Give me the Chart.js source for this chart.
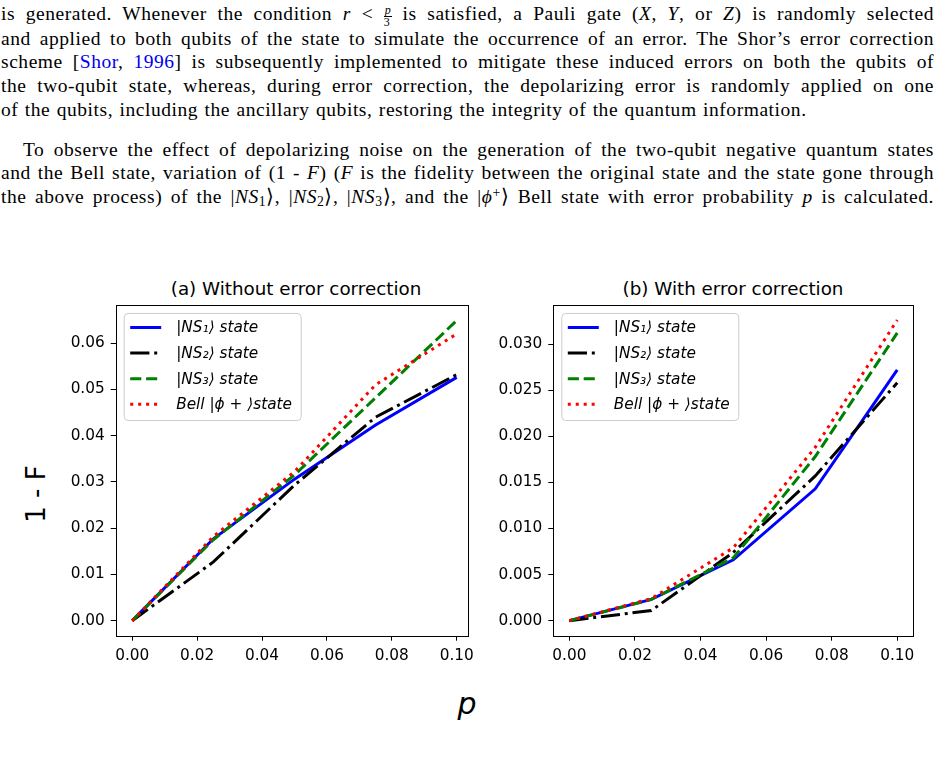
<!DOCTYPE html>
<html>
<head>
<meta charset="utf-8">
<script src="https://cdn.jsdelivr.net/npm/chart.js@4.4.1/dist/chart.umd.min.js"></script>
<style>
  body { margin: 0; background: #fff; width: 941px; height: 784px; overflow: hidden; position: relative; }
  .txt { position: absolute; left: 1px; width: 933px; font-family: "Liberation Serif", serif; font-size: 19.5px;
         letter-spacing: 0.55px; word-spacing: 1px;
         line-height: 23.5px; white-space: nowrap; text-align: justify; text-align-last: justify; color: #000; }
  .txt.last { text-align-last: left; }
  .txt i { font-style: italic; }
  .txt sub { font-size: 0.7em; line-height: 0; vertical-align: -0.25em; }
  .txt sup { font-size: 0.7em; line-height: 0; vertical-align: 0.45em; }
  .frac { display: inline-block; vertical-align: -0.5em; font-size: 12px; line-height: 11px; text-align: center; letter-spacing: 0; }
  .frac .num { display: block; border-bottom: 1px solid #000; padding: 0 1px; font-style: italic; }
  .txt a { color: #0000ee; text-decoration: none; }
  .lbl { position: absolute; font-family: "DejaVu Sans", sans-serif; color: #000; white-space: nowrap; text-align: center; }
  canvas { position: absolute; }
</style>
</head>
<body>

<div class="txt" style="top:2px">is generated. Whenever the condition <i>r</i> &lt; <span class="frac"><span class="num">p</span>3</span> is satisfied, a Pauli gate (<i>X</i>, <i>Y</i>, or <i>Z</i>) is randomly selected</div>
<div class="txt" style="top:26.5px">and applied to both qubits of the state to simulate the occurrence of an error. The Shor’s error correction</div>
<div class="txt" style="top:50px">scheme [<a>Shor</a>, <a>1996</a>] is subsequently implemented to mitigate these induced errors on both the qubits of</div>
<div class="txt" style="top:74px">the two-qubit state, whereas, during error correction, the depolarizing error is randomly applied on one</div>
<div class="txt last" style="top:97.5px">of the qubits, including the ancillary qubits, restoring the integrity of the quantum information.</div>

<div class="txt" style="top:137.5px; left:23px; width:911px">To observe the effect of depolarizing noise on the generation of the two-qubit negative quantum states</div>
<div class="txt" style="top:161px">and the Bell state, variation of (1 - <i>F</i>) (<i>F</i> is the fidelity between the original state and the state gone through</div>
<div class="txt" style="top:184.5px">the above process) of the |<i>NS</i><sub>1</sub>⟩, |<i>NS</i><sub>2</sub>⟩, |<i>NS</i><sub>3</sub>⟩, and the |<i>ϕ</i><sup>+</sup>⟩ Bell state with error probability <i>p</i> is calculated.</div>

<div class="lbl" style="left:96px; width:400px; top:278px; font-size:18.3px; line-height:22px">(a) Without error correction</div>
<div class="lbl" style="left:533px; width:400px; top:278px; font-size:18.3px; line-height:22px">(b) With error correction</div>
<div class="lbl" style="left:-14px; width:100px; top:479px; font-size:26px; line-height:30px; transform:rotate(-90deg)">1 - F</div>
<div class="lbl" style="left:417px; width:100px; top:686px; font-size:30px; line-height:36px; font-style:italic">p</div>

<canvas id="chartA" width="480" height="400" style="left:0px; top:280px"></canvas>
<canvas id="chartB" width="470" height="400" style="left:460px; top:280px"></canvas>

<script>
// error probability p on the x axis
const pValues = [0, 0.025, 0.05, 0.075, 0.1];

// (a) without error correction, 1 - F
const ns1Plain = [0, 0.0177, 0.0306, 0.0423, 0.0526];
const ns2Plain = [0, 0.0127, 0.0293, 0.0440, 0.0532];
const ns3Plain = [0, 0.0175, 0.0315, 0.0482, 0.0649];
const bellPlain = [0, 0.0182, 0.0322, 0.0510, 0.0620];

// (b) with error correction, 1 - F
const ns1Corr = [0, 0.0023, 0.0066, 0.0143, 0.0272];
const ns2Corr = [0, 0.0011, 0.0074, 0.0157, 0.0258];
const ns3Corr = [0, 0.0023, 0.0068, 0.0178, 0.0312];
const bellCorr = [0, 0.0024, 0.0079, 0.0188, 0.0326];

const seriesLabels = ["|NS₁⟩ state", "|NS₂⟩ state", "|NS₃⟩ state", "Bell |ϕ + ⟩state"];

const xTicks = [0, 0.02, 0.04, 0.06, 0.08, 0.1];
const yTicksA = [0, 0.01, 0.02, 0.03, 0.04, 0.05, 0.06];
const yTicksB = [0, 0.005, 0.01, 0.015, 0.02, 0.025, 0.03];

// matplotlib-ish line styles, dash lengths scale with line width
const LW = 3;
const lineStyles = [
  { color: "#0000ff", dash: [] },
  { color: "#000000", dash: [6.4 * LW, 1.6 * LW, 1 * LW, 1.6 * LW] },
  { color: "#008000", dash: [3.7 * LW, 1.6 * LW] },
  { color: "#ff0000", dash: [1 * LW, 1.65 * LW] },
];

// full box around the plot area
const framePlugin = {
  id: "frame",
  afterDraw(chart) {
    const { ctx, chartArea: a } = chart;
    ctx.save();
    ctx.strokeStyle = "#000";
    ctx.lineWidth = 1;
    ctx.strokeRect(Math.round(a.left) + 0.5, Math.round(a.top) + 0.5,
      Math.round(a.right - a.left), Math.round(a.bottom - a.top));
    ctx.restore();
  },
};

// legend box in the upper left corner, drawn from the datasets
const legendBoxPlugin = {
  id: "legendBox",
  afterDraw(chart) {
    const { ctx, chartArea: a } = chart;
    const x = a.left + 8.5, y = a.top + 8.5, w = 177, h = 107;
    ctx.save();
    ctx.beginPath();
    ctx.roundRect(x, y, w, h, 4);
    ctx.fillStyle = "rgba(255,255,255,0.8)";
    ctx.fill();
    ctx.strokeStyle = "#cccccc";
    ctx.lineWidth = 1;
    ctx.stroke();
    ctx.font = "italic 15.3px 'DejaVu Sans'";
    ctx.textBaseline = "middle";
    chart.data.datasets.forEach((ds, i) => {
      const ry = y + 14 + i * 25.6;
      ctx.beginPath();
      ctx.setLineDash(ds.borderDash);
      ctx.strokeStyle = ds.borderColor;
      ctx.lineWidth = LW;
      ctx.moveTo(x + 6, ry);
      ctx.lineTo(x + 37, ry);
      ctx.stroke();
      ctx.setLineDash([]);
      ctx.fillStyle = "#000";
      ctx.fillText(ds.label, x + 52, ry + 1);
    });
    ctx.restore();
  },
};

function makeChart(id, series, opts) {
  const datasets = series.map((vals, i) => ({
    label: seriesLabels[i],
    data: pValues.map((p, k) => ({ x: p, y: vals[k] })),
    borderColor: lineStyles[i].color,
    borderDash: lineStyles[i].dash,
    borderWidth: LW,
    pointRadius: 0,
    tension: 0,
    fill: false,
    order: 3 - i,
  }));
  const tickFont = { family: "DejaVu Sans", size: 15.3 };
  const gridOpts = { drawOnChartArea: false, drawTicks: true, tickLength: 5, color: "#000", lineWidth: 1 };
  return new Chart(document.getElementById(id), {
    type: "line",
    data: { datasets },
    options: {
      responsive: false,
      animation: false,
      events: [],
      layout: { padding: { top: 25, right: opts.padRight, bottom: 0, left: 0 } },
      plugins: { legend: { display: false }, tooltip: { enabled: false } },
      scales: {
        x: {
          type: "linear",
          min: opts.xMin,
          max: opts.xMax,
          afterBuildTicks: s => { s.ticks = xTicks.map(v => ({ value: v })); },
          afterFit: s => { s.height = 44.3; },
          ticks: { font: tickFont, color: "#000", padding: 6, maxRotation: 0, callback: v => v.toFixed(2) },
          grid: gridOpts,
          border: { display: false },
        },
        y: {
          type: "linear",
          min: opts.yMin,
          max: opts.yMax,
          afterBuildTicks: s => { s.ticks = opts.yTicks.map(v => ({ value: v })); },
          afterFit: s => { s.width = opts.yWidth; },
          ticks: { font: tickFont, color: "#000", padding: 6, callback: v => v.toFixed(opts.yDigits) },
          grid: gridOpts,
          border: { display: false },
        },
      },
    },
    plugins: [framePlugin, legendBoxPlugin],
  });
}

makeChart("chartA", [ns1Plain, ns2Plain, ns3Plain, bellPlain], {
  xMin: -0.0051, xMax: 0.1034, yMin: -0.00325, yMax: 0.06825,
  yTicks: yTicksA, yDigits: 2, yWidth: 115.7, padRight: 9,
});

makeChart("chartB", [ns1Corr, ns2Corr, ns3Corr, bellCorr], {
  xMin: -0.0049, xMax: 0.1049, yMin: -0.00163, yMax: 0.03423,
  yTicks: yTicksB, yDigits: 3, yWidth: 93.3, padRight: 16.7,
});
</script>
</body>
</html>
